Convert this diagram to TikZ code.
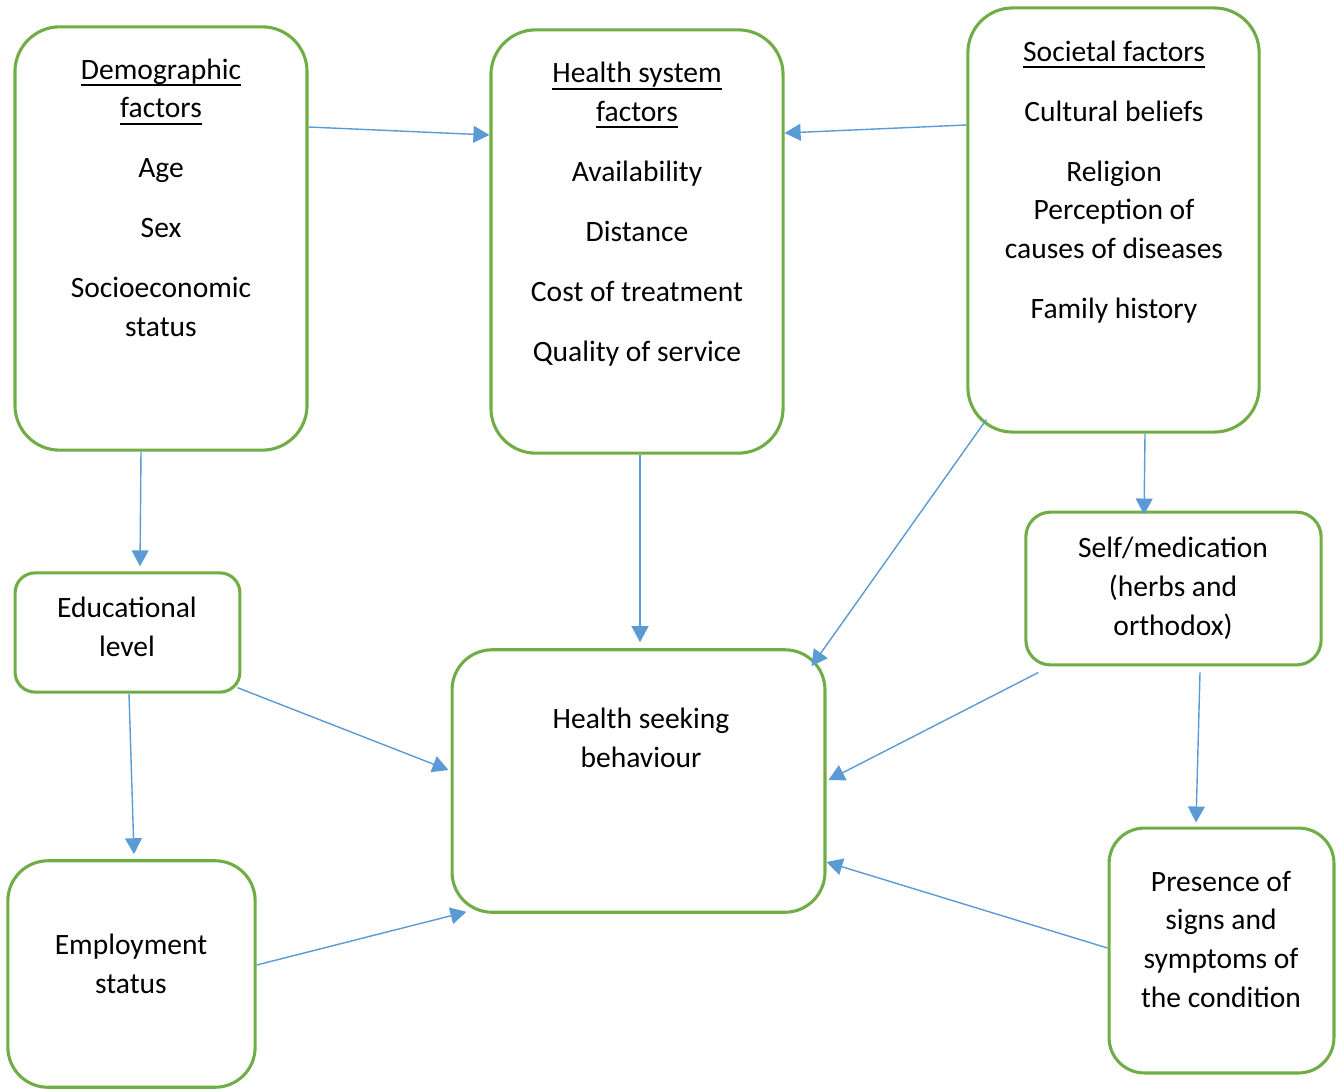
\documentclass[tikz,border=0pt]{standalone}
\usepackage{fontspec}
\setmainfont{Carlito}
\usetikzlibrary{arrows.meta, calc}

\definecolor{boxgreen}{HTML}{70AD47}
\definecolor{arrowblue}{HTML}{5B9BD5}

% thicker underline for the box titles
\newlength{\ulwidth}
\newcommand{\thickul}[1]{\settowidth{\ulwidth}{#1}\rlap{#1}\rule[-2.4pt]{\ulwidth}{0.7pt}}

\tikzset{
  factorbox/.style={draw=boxgreen, line width=1.1pt, rounded corners=#1, inner sep=0pt},
  factortext/.style={align=center, inner sep=0pt, anchor=base, font=\fontsize{10.5}{13.7}\selectfont},
  link/.style={draw=arrowblue, line width=0.5pt, -{Triangle[length=0.2cm, width=0.21cm]}}
}

\begin{document}
\begin{tikzpicture}[x=0.0125cm, y=-0.0125cm]
		
		\useasboundingbox (0,0) rectangle (1338,1089);
		
		% Boxes
		\node[factorbox=0.56cm, minimum width=3.65cm, minimum height=5.29cm] (demo) at (161,238.5) {};
		\node[factorbox=0.56cm, minimum width=3.65cm, minimum height=5.29cm] (hsys) at (637,241.5) {};
		\node[factorbox=0.56cm, minimum width=3.64cm, minimum height=5.3cm] (soc) at (1113.5,220) {};
		\node[factorbox=0.25cm, minimum width=2.81cm, minimum height=1.49cm] (edu) at (127.5,632.5) {};
		\node[factorbox=0.5cm, minimum width=4.66cm, minimum height=3.28cm] (hsb) at (638.5,781) {};
		\node[factorbox=0.31cm, minimum width=3.69cm, minimum height=1.91cm] (self) at (1173.5,588.5) {};
		\node[factorbox=0.5cm, minimum width=3.09cm, minimum height=2.83cm] (emp) at (131.5,974) {};
		\node[factorbox=0.44cm, minimum width=2.81cm, minimum height=3.06cm] (pres) at (1221.5,950.5) {};
		
		% Texts (placed by the baseline of their last line)
		\node[factortext] (demotext) at (161,336) {\thickul{Demographic}\\\thickul{factors}\\[7.6pt]Age\\[7.6pt]Sex\\[7.6pt]Socioeconomic\\status};
		\node[factortext] (hsystext) at (637,361) {\thickul{Health system}\\\thickul{factors}\\[7.6pt]Availability\\[7.6pt]Distance\\[7.6pt]Cost of treatment\\[7.6pt]Quality of service};
		\node[factortext] (soctext) at (1114,318) {\thickul{Societal factors}\\[7.6pt]Cultural beliefs\\[7.6pt]Religion\\Perception of\\causes of diseases\\[7.6pt]Family history};
		\node[factortext] (edutext) at (127,656) {Educational\\level};
		\node[factortext] (hsbtext) at (641,767) {Health seeking\\behaviour};
		\node[factortext] (selftext) at (1173,635) {Self/medication\\(herbs and\\orthodox)};
		\node[factortext] (emptext) at (131,993) {Employment\\status};
		\node[factortext] (prestext) at (1221,1007) {Presence of\\signs and\\symptoms of\\the condition};
		
		% Arrows
		\draw[link] ([shift={(0,-111.5)}]demo.east) -- ([shift={(0,-106.5)}]hsys.west);
		\draw[link] ([shift={(0,-95)}]soc.west) -- ([shift={(0,-108.5)}]hsys.east);
		\draw[link] ([shift={(-20,0)}]demo.south) -- ([shift={(12.5,-5)}]edu.north);
		\draw[link] ([shift={(3,0)}]hsys.south) -- ([shift={(1.5,-6)}]hsb.north);
		\draw[link] ([shift={(20,-14)}]soc.south west) -- ([shift={(-15,18)}]hsb.north east);
		\draw[link] ([shift={(31.5,0)}]soc.south) -- ([shift={(-29.5,4)}]self.north);
		\draw[link] ([shift={(-4,-6)}]edu.south east) -- ([shift={(-2,-11)}]hsb.west);
		\draw[link] ([shift={(1.5,0)}]edu.south) -- ([shift={(2.5,-5)}]emp.north);
		\draw[link] ([shift={(14,6)}]self.south west) -- ([shift={(2,-1)}]hsb.east);
		\draw[link] ([shift={(26.5,6)}]self.south) -- ([shift={(-25.5,-4)}]pres.north);
		\draw[link] ([shift={(0,-9)}]emp.east) -- ([shift={(16,-2)}]hsb.south west);
		\draw[link] ([shift={(0,-2.5)}]pres.west) -- ([shift={(0,81)}]hsb.east);
		
	\end{tikzpicture}
\end{document}
